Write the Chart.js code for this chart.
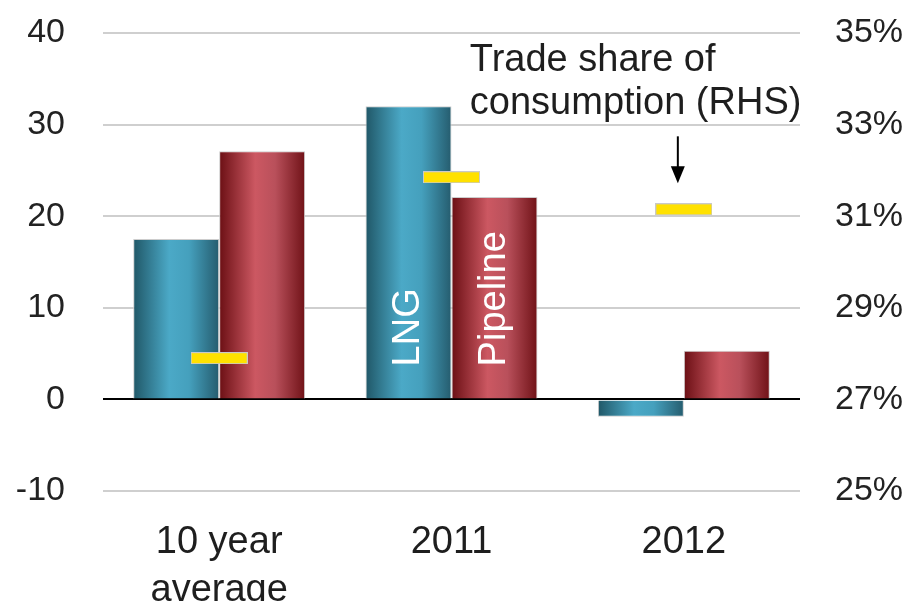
<!DOCTYPE html>
<html>
<head>
<meta charset="utf-8">
<script src="https://cdn.jsdelivr.net/npm/chart.js@4.4.1/dist/chart.umd.min.js"></script>
<style>
  html, body { margin: 0; padding: 0; background: #fff; }
  #wrap { width: 916px; height: 601px; position: relative; }
</style>
</head>
<body>
<div id="wrap"><canvas id="chart"></canvas></div>
<script>
'use strict';

// Categories and series (y/y change, bcm) plus trade share of consumption (RHS, %).
var categories = [['10 year', 'average'], '2011', '2012'];
var lngValues = [17.5, 32.0, -1.9];
var pipelineValues = [27.1, 22.1, 5.3];
var tradeShare = [27.9, 31.85, 31.15];

var leftTicks = [-10, 0, 10, 20, 30, 40];
var rightTicks = [25, 27, 29, 31, 33, 35];

var SANS = "'Liberation Sans', Arial, sans-serif";
var CAT_PCT = 0.74;

var lngStops = ['#205767', '#4ba9c7', '#45a0bd', '#255c6e'];
var pipeStops = ['#6b0f14', '#cc5862', '#b9505b', '#701217'];

//
// Horizontal shading across a single bar: dark edges, light middle.
//
function barFill(stops) {
  return function fill(ctx) {
    var chart = ctx.chart, x = chart.scales.x;
    if (ctx.type !== 'data' || !x || !chart.chartArea) return stops[1];

    var half = x.width / categories.length * CAT_PCT / 2
      , left = x.getPixelForValue(ctx.dataIndex) - half + ctx.datasetIndex * half
      , g = chart.ctx.createLinearGradient(left, 0, left + half, 0);

    g.addColorStop(0, stops[0]);
    g.addColorStop(0.42, stops[1]);
    g.addColorStop(0.65, stops[2]);
    g.addColorStop(1, stops[3]);
    return g;
  };
}

//
// Small yellow dash used as the point style of the share series.
//
function dashMarker(w, h) {
  var c = document.createElement('canvas');
  c.width = w;
  c.height = h;
  var g = c.getContext('2d');
  g.fillStyle = '#c9c9c9';
  g.fillRect(0, 0, w, h);
  g.fillStyle = '#ffe100';
  g.fillRect(1, 1, w - 2, h - 2);
  return c;
}

function upText(c, text, x, y) {
  c.save();
  c.translate(x, y);
  c.rotate(-Math.PI / 2);
  c.textAlign = 'left';
  c.textBaseline = 'middle';
  c.fillText(text, 0, 0);
  c.restore();
}

//
// Vertical axes: fixed width, and no extra room above/below for the end labels.
//
function fitVertical(width) {
  return function (s) {
    s.width = width;
    s.paddingTop = 0;
    s.paddingBottom = 0;
  };
}

var annotations = {
  id: 'annotations',
  afterDatasetsDraw: function (chart) {
    var c = chart.ctx
      , x = chart.scales.x
      , y = chart.scales.y
      , y1 = chart.scales.y1
      , base = y.getPixelForValue(0) - 33;

    // Series names written up the 2011 bars.
    c.fillStyle = '#ffffff';
    c.font = '38px ' + SANS;
    upText(c, 'LNG', chart.getDatasetMeta(0).data[1].x, base);
    upText(c, 'Pipeline', chart.getDatasetMeta(1).data[1].x, base);

    // Label and arrow pointing at the 2012 share marker.
    var cx = x.getPixelForValue(2) - 6
      , tip = y1.getPixelForValue(tradeShare[2]) - 26;

    c.fillStyle = '#1e1e1e';
    c.font = '38px ' + SANS;
    c.textAlign = 'left';
    c.textBaseline = 'alphabetic';
    c.fillText('Trade share of', cx - 208, 71);
    c.fillText('consumption (RHS)', cx - 208, 114);

    c.strokeStyle = '#000';
    c.lineWidth = 2;
    c.beginPath();
    c.moveTo(cx, tip - 47);
    c.lineTo(cx, tip - 14);
    c.stroke();
    c.fillStyle = '#000';
    c.beginPath();
    c.moveTo(cx - 7, tip - 17);
    c.lineTo(cx + 7, tip - 17);
    c.lineTo(cx, tip);
    c.closePath();
    c.fill();
  }
};

new Chart(document.getElementById('chart'), {
  type: 'bar',
  data: {
    labels: categories,
    datasets: [
      {
        label: 'LNG',
        data: lngValues,
        backgroundColor: barFill(lngStops),
        borderColor: '#cdcdcd',
        borderWidth: 1,
        categoryPercentage: CAT_PCT,
        barPercentage: 1,
        order: 2
      },
      {
        label: 'Pipeline',
        data: pipelineValues,
        backgroundColor: barFill(pipeStops),
        borderColor: '#cdcdcd',
        borderWidth: 1,
        categoryPercentage: CAT_PCT,
        barPercentage: 1,
        order: 2
      },
      {
        type: 'line',
        label: 'Trade share of consumption (RHS)',
        data: tradeShare,
        yAxisID: 'y1',
        showLine: false,
        pointStyle: dashMarker(57, 12),
        order: 1
      }
    ]
  },
  options: {
    responsive: true,
    maintainAspectRatio: false,
    animation: false,
    events: [],
    layout: { autoPadding: false, padding: { top: 33, left: 0, right: 0, bottom: 0 } },
    plugins: { legend: { display: false }, tooltip: { enabled: false } },
    scales: {
      x: {
        grid: { display: false },
        border: { display: false },
        ticks: {
          color: '#1e1e1e',
          font: { family: SANS, size: 38, lineHeight: 1.27 },
          padding: 19,
          maxRotation: 0
        },
        afterFit: function (s) { s.height = 110; }
      },
      y: {
        position: 'left',
        min: -10,
        max: 40,
        afterBuildTicks: function (s) {
          s.ticks = leftTicks.map(function (v) { return { value: v }; });
        },
        grid: {
          color: function (ctx) { return ctx.tick && ctx.tick.value === 0 ? '#000000' : '#cfcfcf'; },
          lineWidth: 2,
          drawTicks: false
        },
        border: { display: false },
        ticks: {
          color: '#222',
          font: { family: SANS, size: 34 },
          padding: 38
        },
        afterFit: fitVertical(103)
      },
      y1: {
        position: 'right',
        min: 25,
        max: 35,
        afterBuildTicks: function (s) {
          s.ticks = rightTicks.map(function (v) { return { value: v }; });
        },
        grid: { display: false, drawTicks: false },
        border: { display: false },
        ticks: {
          color: '#222',
          font: { family: SANS, size: 34 },
          padding: 35,
          callback: function (v) { return v + '%'; }
        },
        afterFit: fitVertical(116)
      }
    }
  },
  plugins: [annotations]
});
</script>
</body>
</html>
